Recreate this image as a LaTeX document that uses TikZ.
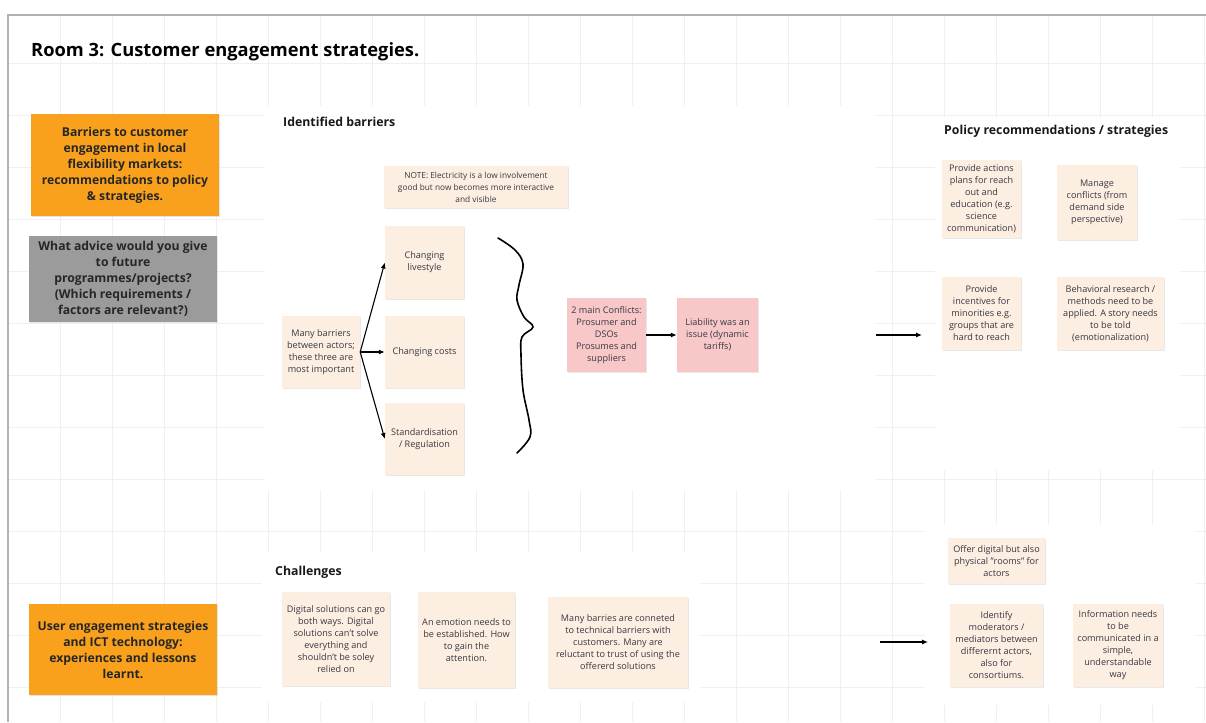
\documentclass[tikz,border=0pt]{standalone}
\usepackage{fontspec}
\setmainfont{Open Sans}
\usetikzlibrary{arrows.meta,shadows}
\definecolor{stickyc}{RGB}{253,238,226}
\definecolor{pinkc}{RGB}{248,200,200}
\definecolor{orangec}{RGB}{249,161,28}
\definecolor{grayc}{RGB}{155,155,155}
\definecolor{gridc}{RGB}{240,240,240}
\definecolor{framec}{RGB}{178,178,178}
\definecolor{txtc}{RGB}{55,55,65}
\tikzset{
  x=1pt,y=-1pt,
  note/.style={fill=stickyc, draw=none, align=center, inner sep=2pt,
    font=\fontsize{9.1}{12}\selectfont, text=txtc,
    drop shadow={opacity=0.18, shadow xshift=1pt, shadow yshift=-1.2pt}},
  smallnote/.style={note, font=\fontsize{8.3}{12}\selectfont},
  pinknote/.style={note, fill=pinkc},
  headbox/.style={fill=orangec, draw=none, align=center, inner sep=2pt,
    font=\fontsize{12.2}{16}\selectfont\bfseries, text=black!85,
    drop shadow={opacity=0.2, shadow xshift=1pt, shadow yshift=-1.2pt}},
  graybox/.style={headbox, fill=grayc},
  heading/.style={anchor=base west, font=\fontsize{12.3}{14}\selectfont\bfseries, text=black!90, inner sep=0pt},
  arr/.style={line width=1.1pt, -{Latex[length=6pt,width=5pt]}}
}
\begin{document}
\begin{tikzpicture}
\useasboundingbox (0,0) rectangle (1206,722);
\fill[white] (0,0) rectangle (1206,722);
% grid
\foreach \gx in {60,112,...,1210} \draw[gridc, line width=0.8pt] (\gx,15) -- (\gx,722);
\foreach \gy in {63,115,...,722} \draw[gridc, line width=0.8pt] (8,\gy) -- (1206,\gy);
% white frames
\fill[white] (265,106) rectangle (875,490);
\fill[white] (935,117) rectangle (1180,470);
\fill[white] (262,552) rectangle (700,702);
\fill[white] (925,525) rectangle (1195,705);
% outer frame
\draw[framec, line width=1.8pt] (8,722) -- (8,15) -- (1206,15);
% title
\node[anchor=base west, inner sep=0pt, font=\fontsize{18.3}{22}\selectfont\bfseries, text=black] (title) at (31,57) {Room 3: Customer engagement strategies.};
% left boxes
\node[headbox, minimum width=188, minimum height=102] (o1) at (125,165) {Barriers to customer\\engagement in local\\flexibility markets:\\recommendations to policy\\\& strategies.};
\node[graybox, minimum width=188, minimum height=86] (g1) at (123,279) {What advice would you give\\to future\\programmes/projects?\\(Which requirements /\\factors are relevant?)};
\node[headbox, minimum width=188, minimum height=91] (o2) at (123,649.5) {User engagement strategies\\and ICT technology:\\experiences and lessons\\learnt.};
% identified barriers
\node[heading] (h1) at (283,127) {Identified barriers};
\node[smallnote, minimum width=184, minimum height=42] (note) at (476,187) {NOTE: Electricity is a low involvement\\good but now becomes more interactive\\and visible};
\node[note, minimum width=79, minimum height=73] (cl) at (424.5,262.5) {Changing\\livestyle};
\node[note, minimum width=79, minimum height=72] (cc) at (424.5,352) {Changing costs};
\node[note, minimum width=79, minimum height=72] (sr) at (424.5,439) {Standardisation\\/ Regulation};
\node[note, minimum width=78, minimum height=72] (mb) at (321,352) {Many barriers\\between actors;\\these three are\\most important};
\draw[arr] (mb.east) -- (cl.west);
\draw[arr] (mb.east) -- (cc.west);
\draw[arr] (mb.east) -- (sr.west);
% brace
\draw[line width=1.6pt, line cap=round] plot[smooth, tension=0.6] coordinates {(498,238) (515,250) (523,264) (519,285) (517,300) (524,317) (533,327) (522,337) (521,355) (523,390) (529,420) (530,437) (517,453)};
\node[pinknote, minimum width=79, minimum height=74] (p1) at (606.5,335) {2 main Conflicts:\\Prosumer and\\DSOs\\Prosumes and\\suppliers};
\node[pinknote, minimum width=81, minimum height=74] (p2) at (717.5,335) {Liability was an\\issue (dynamic\\tariffs)};
\draw[arr] (p1.east) -- (p2.west);
% arrow to policy
\coordinate (a1s) at (876,335);
\coordinate (a1e) at (922,335);
\draw[arr] (a1s) -- (a1e);
% policy
\node[heading] (h2) at (944,135) {Policy recommendations / strategies};
\node[note, minimum width=79, minimum height=78] (r1) at (981.5,199) {Provide actions\\plans for reach\\out and\\education (e.g.\\science\\communication)};
\node[note, minimum width=80, minimum height=75] (r2) at (1097,202.5) {Manage\\conflicts (from\\demand side\\perspective)};
\node[note, minimum width=79, minimum height=73] (r3) at (981.5,313.5) {Provide\\incentives for\\minorities e.g.\\groups that are\\hard to reach};
\node[note, minimum width=107, minimum height=73] (r4) at (1110.5,313.5) {Behavioral research /\\methods need to be\\applied. A story needs\\to be told\\(emotionalization)};
% challenges
\node[heading] (h3) at (275,575) {Challenges};
\node[note, minimum width=108, minimum height=94] (c1) at (336,639) {Digital solutions can go\\both ways. Digital\\solutions can't solve\\everything and\\shouldn't be soley\\relied on};
\node[note, minimum width=97, minimum height=96] (c2) at (466.5,640) {An emotion needs to\\be established. How\\to gain the\\attention.};
\node[note, minimum width=140, minimum height=91] (c3) at (618,642.5) {Many barries are conneted\\to technical barriers with\\customers. Many are\\reluctant to trust of using the\\offererd solutions};
% arrow bottom
\coordinate (a2s) at (880,642);
\coordinate (a2e) at (928,642);
\draw[arr] (a2s) -- (a2e);
\node[note, minimum width=97, minimum height=46] (s1) at (996.5,561) {Offer digital but also\\physical "rooms" for\\actors};
\node[note, minimum width=93, minimum height=83] (s2) at (996.5,645.5) {Identify\\moderators /\\mediators between\\differernt actors,\\also for\\consortiums.};
\node[note, minimum width=90, minimum height=83] (s3) at (1118,645.5) {Information needs\\to be\\communicated in a\\simple,\\understandable\\way};
\end{tikzpicture}
\end{document}
